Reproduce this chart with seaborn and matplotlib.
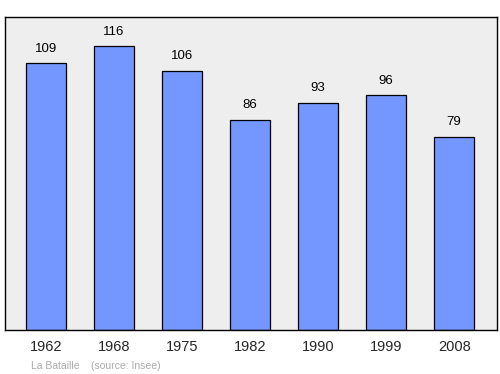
import matplotlib
matplotlib.use("Agg")
import matplotlib.pyplot as plt
import seaborn as sns
import pandas as pd

years = ["1962", "1968", "1975", "1982", "1990", "1999", "2008"]
population = [109, 116, 106, 86, 93, 96, 79]
caption_place = "La Bataille"
caption_source = "(source: Insee)"

sns.set_style("white")
plt.rcParams['font.family'] = ['Liberation Sans', 'DejaVu Sans']

df = pd.DataFrame({"year": years, "pop": population})

fig = plt.figure(figsize=(5, 3.74), dpi=100)
ax = fig.add_axes([0.01, 0.1176, 0.984, 0.837])
ax.set_facecolor("#eeeeee")

sns.barplot(data=df, x="year", y="pop", color="#7396ff", saturation=1,
            width=0.59, edgecolor="black", linewidth=0.9, ax=ax)

for i, v in enumerate(population):
    ax.text(i, v + 6.0, str(v), ha="center", va="center", fontsize=9.5, color="black")

ax.set_xlim(-0.6, 6.63)
ax.set_ylim(0, 128)
ax.set_yticks([])
ax.set_xlabel("")
ax.set_ylabel("")
ax.tick_params(axis="x", length=0, labelsize=10.5, pad=7.5)
for s in ax.spines.values():
    s.set_visible(True)
    s.set_color("black")
    s.set_linewidth(1.0)

fig.text(31 / 500, 1 - 366 / 374, caption_place, fontsize=7.5, color="#aaaaaa", va="center")
fig.text(91 / 500, 1 - 366 / 374, caption_source, fontsize=7.5, color="#aaaaaa", va="center")

fig.savefig("out.png", dpi=100)
